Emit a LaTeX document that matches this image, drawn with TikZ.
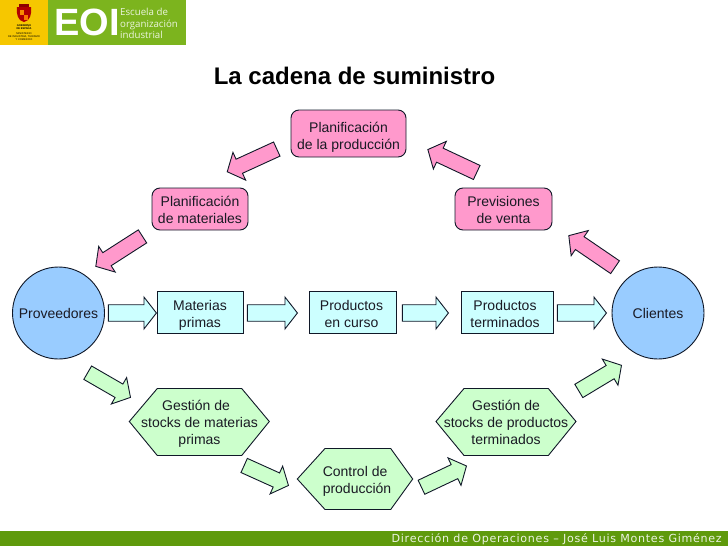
\documentclass[tikz,border=0pt]{standalone}
\usepackage{fontspec}
\setmainfont{Liberation Sans}
\newfontfamily\footfont[LetterSpace=6.4]{DejaVu Sans}
\newfontfamily\logofont{Open Sans}
\usetikzlibrary{shapes.arrows}
\definecolor{pinkf}{HTML}{FF99CC}
\definecolor{cyanf}{HTML}{CCFFFF}
\definecolor{bluef}{HTML}{99CCFF}
\definecolor{greenf}{HTML}{CCFFCC}
\definecolor{edgec}{HTML}{101828}
\definecolor{footc}{HTML}{5F9A0C}
\definecolor{logog}{HTML}{7CB41E}
\definecolor{logoy}{HTML}{F6C700}
\definecolor{txt}{HTML}{1A1A24}
\tikzset{
  x=1pt,y=-1pt,
  every node/.style={font=\fontsize{14}{17}\selectfont,text=txt,align=center},
  shapeline/.style={draw=edgec,line width=0.9pt},
  roundbox/.style={shapeline,fill=pinkf,rounded corners=8pt,minimum width=#1,minimum height=42pt,inner sep=0pt},
  cyanbox/.style={shapeline,fill=cyanf,minimum width=#1,minimum height=42pt,inner sep=0pt},
  circlenode/.style={shapeline,fill=bluef,circle,minimum size=92pt,inner sep=0pt},
  hexshape/.style={shapeline,fill=greenf},
  label/.style={inner sep=0pt},
  blockarrow/.style={shapeline,single arrow,inner xsep=0pt,inner ysep=7.3pt,anchor=tip,
     single arrow head extend=7.5pt,single arrow tip angle=98,minimum height=#1},
  pinkarrow/.style={blockarrow=#1,fill=pinkf},
  greenarrow/.style={blockarrow=#1,fill=greenf},
  cyanarrow/.style={blockarrow=#1,fill=cyanf,inner ysep=7.8pt,single arrow head extend=7.7pt,single arrow tip angle=104},
}
\begin{document}
\begin{tikzpicture}
\useasboundingbox (0,0) rectangle (728,546);
\fill[white] (0,0) rectangle (728,546);
% logo
\fill[logoy] (0,0) rectangle (48,45);
\fill[logog] (48,0) rectangle (186,45);
\fill[red!70!black] (17,7) .. controls (16,14) and (18,21) .. (24,22) .. controls (30,21) and (32,14) .. (31,7) -- cycle;
\fill[logoy!70!red] (20,10) rectangle (24,15);
\fill[red!40!logoy] (24,15) rectangle (28,20);
\fill[red!55!black] (19,4) rectangle (29,7);
\node[inner sep=0pt,font=\fontsize{2.6}{3}\selectfont\bfseries,text=black] (gob) at (24,27) {GOBIERNO\\DE ESPAÑA};
\node[inner sep=0pt,font=\fontsize{2.6}{3}\selectfont,text=black] (min) at (24,36.5) {MINISTERIO\\DE INDUSTRIA, TURISMO\\Y COMERCIO};
\node[inner sep=0pt,font=\fontsize{38}{38}\selectfont\bfseries,text=white] (eoi) at (87,22) {EOI};
\node[inner sep=0pt,align=left,anchor=west,font=\logofont\fontsize{9.7}{11.5}\selectfont,text=white!85!logog] (esc) at (120,23.5) {Escuela de\\organización\\industrial};
% title
\node[inner sep=0pt,font=\fontsize{24}{28}\selectfont\bfseries,text=black] (title) at (354.5,76) {La cadena de suministro};
% top row
\node[roundbox=115pt,minimum height=47pt] (prod) at (348.5,133.5) {};
\node[label] (prodt) at (348.5,137.5) {Planificación\\de la producción};
\node[roundbox=96pt] (mat) at (200,209) {};
\node[label] (matt) at (200,210) {Planificación\\de materiales};
\node[roundbox=97pt] (prev) at (503.5,209) {};
\node[label] (prevt) at (503.5,210) {Previsiones\\de venta};
% middle row
\node[circlenode] (prov) at (58.5,313) {Proveedores};
\node[cyanbox=86pt] (mp) at (200,312) {};
\node[label] (mpt) at (200,315) {Materias\\primas};
\node[cyanbox=87pt] (pc) at (352.5,312) {};
\node[label] (pct) at (351.5,314) {Productos\\en curso};
\node[cyanbox=92pt] (pt) at (507,312) {};
\node[label] (ptt) at (505,314) {Productos\\terminados};
\node[circlenode] (cli) at (658,313) {Clientes};
% hexagons
\draw[hexshape] (129.3,421.5) -- (157.3,388.5) -- (241.7,388.5) -- (269.3,421.5) -- (241.7,455.5) -- (157.3,455.5) -- cycle;
\node[label] (gmp) at (199.5,424) {Gestión de\phantom{x}\\stocks de materias\\primas};
\draw[hexshape] (297.3,479) -- (325,448.5) -- (390.7,448.5) -- (412.7,479) -- (390.7,509.5) -- (325,509.5) -- cycle;
\node[label,align=left] (cp) at (357,481) {Control de\\producción};
\draw[hexshape] (436,421.5) -- (464,388.5) -- (548.3,388.5) -- (576,421.5) -- (548.3,455.5) -- (464,455.5) -- cycle;
\node[label] (gpt) at (506,422) {Gestión de\\stocks de productos\\terminados};
% pink arrows
\node[pinkarrow=54.5pt,rotate=204.6] (a1) at (226.7,172) {};
\node[pinkarrow=55.5pt,rotate=212.7] (a2) at (95.3,266.7) {};
\node[pinkarrow=56pt,rotate=145.7] (a3) at (568.3,235.3) {};
\node[pinkarrow=54pt,rotate=154.9] (a4) at (427.3,149.3) {};
% cyan arrows
\node[cyanarrow=48pt] (h1) at (157,313) {};
\node[cyanarrow=50pt] (h2) at (298,313) {};
\node[cyanarrow=46pt] (h3) at (449,313) {};
\node[cyanarrow=49pt] (h4) at (607,313) {};
% green arrows
\node[greenarrow=49.4pt,rotate=-30] (g1) at (131,397.7) {};
\node[greenarrow=48.6pt,rotate=-24.3] (g2) at (289,485.7) {};
\node[greenarrow=49.8pt,rotate=25.3] (g3) at (467,465.7) {};
\node[greenarrow=49.8pt,rotate=31] (g4) at (622,365) {};
% footer
\fill[footc] (0,531) rectangle (728,546);
\node[inner sep=0pt,anchor=east,font=\footfont\fontsize{11.1}{13}\selectfont,text=white!88!footc] (foot) at (722,539.5) {Dirección de Operaciones – José Luis Montes Giménez};
\end{tikzpicture}
\end{document}
